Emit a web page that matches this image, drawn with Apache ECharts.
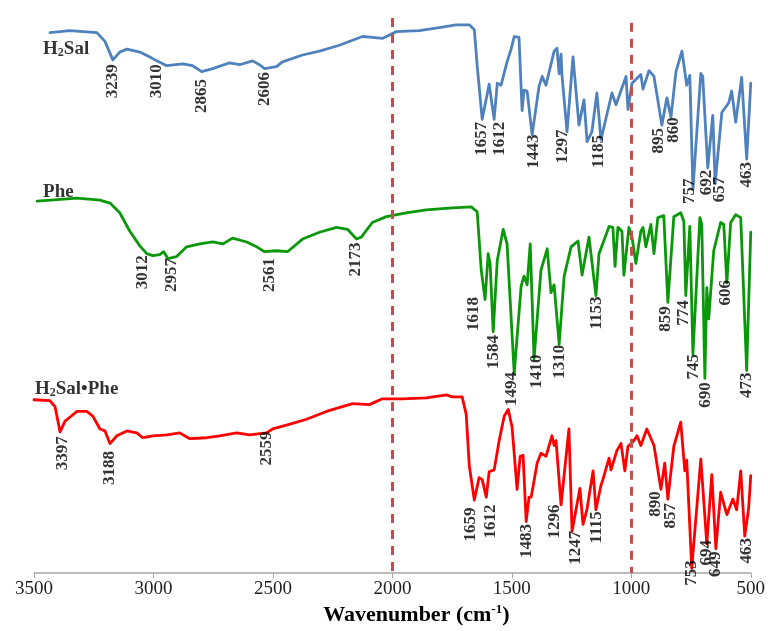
<!DOCTYPE html>
<html>
<head>
<meta charset="utf-8">
<script src="https://cdn.jsdelivr.net/npm/echarts@6/dist/echarts.min.js"></script>
<style>html,body{margin:0;padding:0;background:#fff}#c{width:768px;height:631px}</style>
</head>
<body>
<div id="c"></div>
<script>
// ---- data (wavenumber in cm-1 as placed on the axis, signal in arbitrary offset units) ----
const xTicks = [3500, 3000, 2500, 2000, 1500, 1000, 500];
const guideLines = [[2000, 570], [1000, 565]];

const h2salWavenumber = [3433,3350,3237,3203,3170,3141,3111,3057,3015,2986,2944,2878,2836,2798,2752,2681,2639,2585,2556,2535,2485,2460,2376,2305,2222,2125,2084,2042,1983,1887,1804,1733,1678,1657,1645,1624,1595,1574,1561,1545,1520,1503,1490,1470,1457,1449,1436,1415,1386,1373,1357,1323,1311,1302,1294,1290,1269,1244,1219,1198,1185,1165,1144,1127,1081,1064,1022,1014,997,960,951,926,905,872,851,834,813,788,768,755,742,709,701,680,659,649,621,592,580,563,538,517,500];
const h2salSignal = [555,557,555,546,527,535,538,535,530,526,521,523,521,515,518,524,522,526,522,518,520,525,532,536,542,551,550,549,556,557,560,563,563,558,521,466,502,466,503,501,525,538,551,550,475,496,495,450,500,510,501,536,539,513,533,511,453,530,460,486,443,453,493,445,493,481,510,476,503,512,497,516,510,460,488,468,515,536,501,511,394,513,510,416,470,400,473,483,495,463,509,425,503];

const pheWavenumber = [3487,3320,3224,3182,3141,3099,3057,3028,3003,2974,2957,2940,2903,2861,2806,2752,2710,2669,2610,2568,2535,2485,2439,2376,2305,2234,2188,2150,2130,2084,2025,1942,1858,1749,1670,1645,1628,1612,1599,1591,1578,1561,1536,1520,1490,1461,1449,1436,1423,1407,1378,1352,1336,1323,1302,1281,1252,1223,1206,1177,1148,1135,1093,1077,1068,1056,1039,1031,1010,997,981,960,951,939,918,905,889,864,847,822,793,780,772,755,742,713,705,692,684,676,667,655,626,613,600,584,563,542,517,500];
const pheSignal = [382,385,383,380,370,351,336,328,326,327,330,323,325,335,338,340,338,344,340,335,330,331,330,343,350,355,353,343,345,360,366,370,373,375,376,371,311,281,328,318,248,321,353,338,205,295,305,296,338,220,311,333,288,296,235,305,335,341,306,345,285,328,356,355,315,355,351,306,355,345,318,351,355,335,358,328,365,367,278,366,370,361,285,356,225,365,358,200,293,261,291,331,360,358,298,360,368,365,208,350];

const complexWavenumber = [3500,3433,3412,3391,3370,3350,3320,3279,3253,3224,3203,3182,3153,3111,3070,3045,3003,2944,2890,2848,2777,2723,2652,2598,2527,2501,2443,2359,2276,2167,2096,2042,1958,1858,1774,1749,1708,1691,1678,1657,1637,1624,1607,1595,1574,1553,1532,1515,1499,1478,1465,1453,1440,1428,1419,1394,1378,1357,1332,1323,1315,1294,1261,1248,1215,1202,1185,1160,1148,1127,1119,1093,1085,1060,1043,1027,1014,989,976,960,935,905,876,860,847,822,793,776,768,747,709,684,663,646,626,600,575,559,542,525,509,500];
const complexSignal = [178,177,171,145,156,160,166,166,161,148,146,133,141,146,144,139,141,142,144,138,139,141,144,142,144,148,152,158,166,174,173,179,179,180,183,181,181,163,110,75,98,96,78,104,106,136,161,168,150,86,120,121,53,78,78,113,123,120,141,131,136,70,148,43,87,50,66,105,65,90,96,118,106,126,133,105,130,136,141,131,148,131,86,113,76,130,155,105,116,5,117,30,101,25,83,60,76,65,105,38,66,100];

// peak annotations: [label, wavenumber position, level]
const h2salPeaks = [["3239",3170,505],["3010",2986,505],["2865",2798,490],["2606",2535,497],["1657",1628,446],["1612",1553,446],["1443",1407,433],["1297",1286,438],["1185",1135,433],["895",885,444],["860",822,455],["757",755,392],["692",684,401],["657",630,394],["463",517,409]];
const phePeaks = [["3012",3045,309],["2957",2923,306],["2561",2514,306],["2173",2155,322],["1618",1662,266],["1584",1578,227],["1494",1499,189],["1410",1398,207],["1310",1302,217],["1153",1144,267],["859",855,261],["774",780,267],["745",738,212],["690",688,183],["606",605,288],["473",517,193]];
const complexPeaks = [["3397",3379,123],["3188",3182,108],["2559",2527,128],["1659",1674,50],["1612",1587,53],["1483",1440,33],["1296",1319,53],["1247",1231,26],["1115",1144,47],["890",897,71],["857",834,59],["753",747,0],["694",684,21],["649",646,9],["463",517,23]];

// trace names: [rich label, wavenumber, level]
const traceNames = [["{b|H}{s|2}{b|Sal}",3462,538],["{b|Phe}",3462,391],["{b|H}{s|2}{b|Sal\u2022Phe}",3496,189]];

const SERIF = '"Liberation Serif","Times New Roman",serif';
function zip(w, v){ return w.map((x,i)=>[x, v[i]]); }
function lineSeries(name, w, v, color){
  return {name, type:'line', data: zip(w,v), showSymbol:false, symbol:'none', smooth:false,
    lineStyle:{color, width:2.8, join:'round', cap:'round'}, z:3, animation:false};
}
function peakSeries(peaks){
  return {type:'scatter', symbolSize:0, z:5, animation:false, silent:true,
    data: peaks.map(p=>[p[1], p[2], p[0]]),
    label:{show:true, position:'inside', rotate:90, align:'center', verticalAlign:'middle',
      formatter:p=>p.data[2], fontFamily:SERIF, fontWeight:'bold', fontSize:17, color:'#000'}};
}

const chart = echarts.init(document.getElementById('c'), null, {renderer:'canvas'});
chart.setOption({
  backgroundColor:'#fff',
  animation:false,
  grid:{left:34, right:16, top:18, bottom:43},
  xAxis:{type:'value', inverse:true, min:500, max:3500, interval:500,
    axisLine:{show:true, lineStyle:{color:'#a6a6a6', width:1.5}},
    axisTick:{show:true, length:5, lineStyle:{color:'#a6a6a6'}},
    splitLine:{show:false},
    axisLabel:{fontFamily:SERIF, fontSize:19, color:'#222', margin:6,
      formatter:v=> xTicks.includes(v) ? String(v) : ''},
    name:'{t|Wavenumber (cm}{sup|-1}{t|)}', nameLocation:'middle', nameGap:18,
    nameTextStyle:{padding:[0,0,0,48], rich:{
      t:{fontFamily:SERIF, fontWeight:'bold', fontSize:22, color:'#000', lineHeight:24},
      sup:{fontFamily:SERIF, fontWeight:'bold', fontSize:13, color:'#000', verticalAlign:'top', lineHeight:14}}}
  },
  yAxis:{type:'value', min:0, max:570, show:false},
  series:[
    Object.assign(lineSeries('H2Sal', h2salWavenumber, h2salSignal, '#4f81bd'), {
      markLine:{silent:true, symbol:'none', label:{show:false}, animation:false,
        lineStyle:{color:'#c0504d', width:3, type:[9,7]},
        data: guideLines.map(g=>[{coord:[g[0], g[1]]}, {coord:[g[0], 0]}])}
    }),
    lineSeries('Phe', pheWavenumber, pheSignal, '#0a980a'),
    lineSeries('H2Sal-Phe', complexWavenumber, complexSignal, '#ff0000'),
    peakSeries(h2salPeaks),
    peakSeries(phePeaks),
    peakSeries(complexPeaks),
    {type:'scatter', symbolSize:0, z:5, silent:true, animation:false,
      data: traceNames.map(t=>[t[1], t[2], t[0]]),
      label:{show:true, position:'inside', align:'left', verticalAlign:'middle',
        formatter:p=>p.data[2],
        rich:{b:{fontFamily:SERIF, fontWeight:'bold', fontSize:19, color:'#000', lineHeight:20},
              s:{fontFamily:SERIF, fontWeight:'bold', fontSize:12, color:'#000', lineHeight:10, verticalAlign:'bottom'}}}}
  ]
});
</script>
</body>
</html>
